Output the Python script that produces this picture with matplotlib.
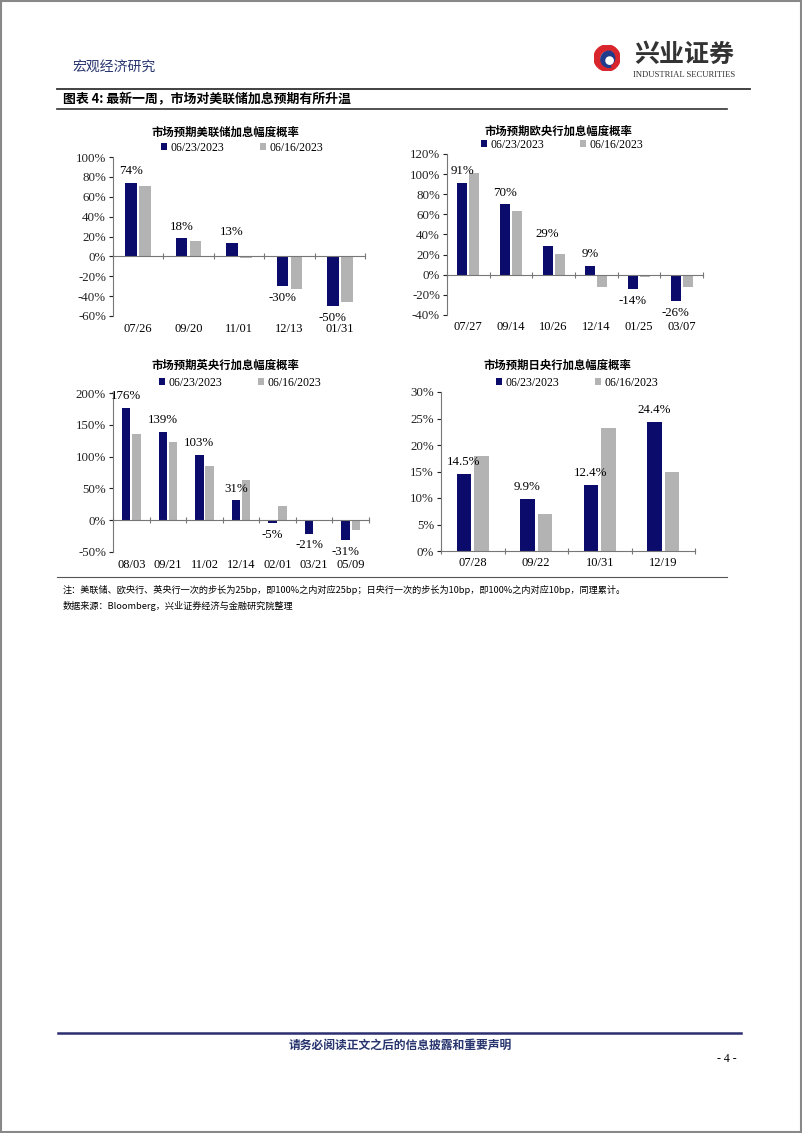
import numpy as np
import matplotlib
matplotlib.use('Agg')
import matplotlib.pyplot as plt
from matplotlib.patches import Rectangle, Wedge, Circle
from matplotlib.lines import Line2D

plt.rcParams['font.family'] = ['Liberation Serif', 'Noto Sans CJK SC', 'DejaVu Sans']

# 数据
fed_dates = ['07/26', '09/20', '11/01', '12/13', '01/31']
fed_new = [74, 18, 13, -30, -50]
fed_old = [71, 15, -1.5, -33, -46]

ecb_dates = ['07/27', '09/14', '10/26', '12/14', '01/25', '03/07']
ecb_new = [91, 70, 29, 9, -14, -26]
ecb_old = [101, 63, 21, -12, -2, -12]

boe_dates = ['08/03', '09/21', '11/02', '12/14', '02/01', '03/21', '05/09']
boe_new = [176, 139, 103, 31, -5, -21, -31]
boe_old = [136, 123, 85, 63, 22, -2, -16]

boj_dates = ['07/28', '09/22', '10/31', '12/19']
boj_new = [14.5, 9.9, 12.4, 24.4]
boj_old = [18, 7, 23.2, 15]

legend_labels = ['06/23/2023', '06/16/2023']

NAVY = '#0b0b6b'
GRAY = '#b3b3b3'
W, H = 802, 1133
CJK = ['Noto Sans CJK SC', 'DejaVu Sans']

fig = plt.figure(figsize=(W / 100, H / 100), dpi=100)


def fx(x):
    return x / W


def fy(y):
    return 1 - y / H


def add_ax(x0, x1, y0, y1):
    return fig.add_axes([fx(x0), fy(y1), fx(x1) - fx(x0), (y1 - y0) / H])


def chart(box, dates, new, old, ylim, step, title, title_xy, leg_xy, fmt, lab_fmt):
    ax = add_ax(*box)
    n = len(dates)
    x = np.arange(n)
    ax.bar(x - 0.14, new, width=0.23, color=NAVY, label=legend_labels[0], zorder=2)
    ax.bar(x + 0.14, old, width=0.23, color=GRAY, label=legend_labels[1], zorder=2)
    ax.set_xlim(-0.5, n - 0.5)
    ax.set_ylim(*ylim)
    ax.set_yticks(np.arange(ylim[0], ylim[1] + step / 2, step))
    ax.set_yticklabels([fmt.format(v) for v in ax.get_yticks()], fontsize=9.3)
    ax.tick_params(axis='y', direction='out', length=3, width=0.8, pad=2, colors='#222222')
    for s in ['top', 'right']:
        ax.spines[s].set_visible(False)
    ax.spines['left'].set_color('#777777')
    ax.spines['bottom'].set_position(('data', 0))
    ax.spines['bottom'].set_color('#777777')
    ax.set_xticks(np.arange(n + 1) - 0.5)
    ax.set_xticklabels([])
    ax.tick_params(axis='x', direction='inout', length=5, width=0.8, colors='#777777')
    for i, d in enumerate(dates):
        ax.annotate(d, xy=(i, 0), xycoords=('data', 'axes fraction'), xytext=(0, -9),
                    textcoords='offset points', ha='center', va='center', fontsize=9)
    for i, v in enumerate(new):
        off = 8.5 if v >= 0 else -8.5
        ax.annotate(lab_fmt.format(v), xy=(i - 0.14, v), xytext=(0, off),
                    textcoords='offset points', ha='center', va='center', fontsize=9.3,
                    zorder=3)
    fig.text(fx(title_xy[0]), fy(title_xy[1]), title, family=CJK, fontsize=8.2,
             fontweight='bold', ha='center', va='center')
    fig.legend(*ax.get_legend_handles_labels(), loc='center',
               bbox_to_anchor=(fx(leg_xy[0]), fy(leg_xy[1])), ncol=2, frameon=False,
               fontsize=8.5, handlelength=0.55, handleheight=0.55, handletextpad=0.3,
               columnspacing=3.0, borderpad=0)
    return ax


chart((113, 365, 157, 316), fed_dates, fed_new, fed_old, (-60, 100), 20,
      '市场预期美联储加息幅度概率', (225, 132), (242, 148), '{:.0f}%', '{:.0f}%')
chart((447, 703, 154, 315), ecb_dates, ecb_new, ecb_old, (-40, 120), 20,
      '市场预期欧央行加息幅度概率', (558, 131), (562, 145), '{:.0f}%', '{:.0f}%')
chart((113, 369, 393, 552), boe_dates, boe_new, boe_old, (-50, 200), 50,
      '市场预期英央行加息幅度概率', (225, 365), (240, 383), '{:.0f}%', '{:.0f}%')
chart((441, 695, 392, 551), boj_dates, boj_new, boj_old, (0, 30), 5,
      '市场预期日央行加息幅度概率', (557, 365), (577, 383), '{:.0f}%', '{:.1f}%')

# 页眉
fig.text(fx(72), fy(67), '宏观经济研究', family=CJK, fontsize=10, color='#27346e',
         ha='left', va='center')
lax = fig.add_axes([fx(594), fy(71), fx(26), 26 / H])
lax.set_xlim(-1, 1)
lax.set_ylim(-1, 1)
lax.set_aspect('equal')
lax.axis('off')
lax.add_patch(Wedge((0, 0), 1, 60, 300, width=0.45, color='#d9262c'))
lax.add_patch(Circle((0.15, -0.1), 0.62, color='#1f3c8c'))
lax.add_patch(Circle((0.2, -0.2), 0.28, color='white'))
lax.add_patch(Wedge((0, 0), 1, 300, 60, width=0.3, color='#d9262c'))
fig.text(fx(684), fy(55), '兴业证券', family=CJK, fontsize=18, fontweight='bold',
         color='#333333', ha='center', va='center')
fig.text(fx(684), fy(75), 'INDUSTRIAL SECURITIES', fontsize=6.2, color='#333333',
         ha='center', va='center')

fig.add_artist(Line2D([fx(57), fx(750)], [fy(89), fy(89)], color='#333333', lw=1.3))
fig.text(fx(63), fy(99), '图表 4: 最新一周，市场对美联储加息预期有所升温', family=CJK,
         fontsize=9.3, fontweight='bold', ha='left', va='center')
fig.add_artist(Line2D([fx(57), fx(727)], [fy(109), fy(109)], color='#333333', lw=1.2))

# 注释
fig.add_artist(Line2D([fx(57), fx(727)], [fy(577), fy(577)], color='#555555', lw=0.8))
fig.text(fx(63), fy(590),
         '注：美联储、欧央行、英央行一次的步长为25bp，即100%之内对应25bp；日央行一次的步长为10bp，即100%之内对应10bp，同理累计。',
         family=CJK, fontsize=6.6, ha='left', va='center')
fig.text(fx(63), fy(606), '数据来源：Bloomberg，兴业证券经济与金融研究院整理',
         family=CJK, fontsize=6.6, ha='left', va='center')

# 页脚
fig.add_artist(Line2D([fx(58), fx(741)], [fy(1033), fy(1033)], color='#2b2f6e', lw=1.8))
fig.text(fx(400), fy(1045), '请务必阅读正文之后的信息披露和重要声明', family=CJK,
         fontsize=8.5, fontweight='bold', color='#27346e', ha='center', va='center')
fig.text(fx(727), fy(1059), '- 4 -', fontsize=8.5, ha='center', va='center')

fig.add_artist(Rectangle((0.001, 0.001), 0.998, 0.998, transform=fig.transFigure,
                         fill=False, edgecolor='#888888', lw=1.5))

fig.savefig('out.png', dpi=100)
